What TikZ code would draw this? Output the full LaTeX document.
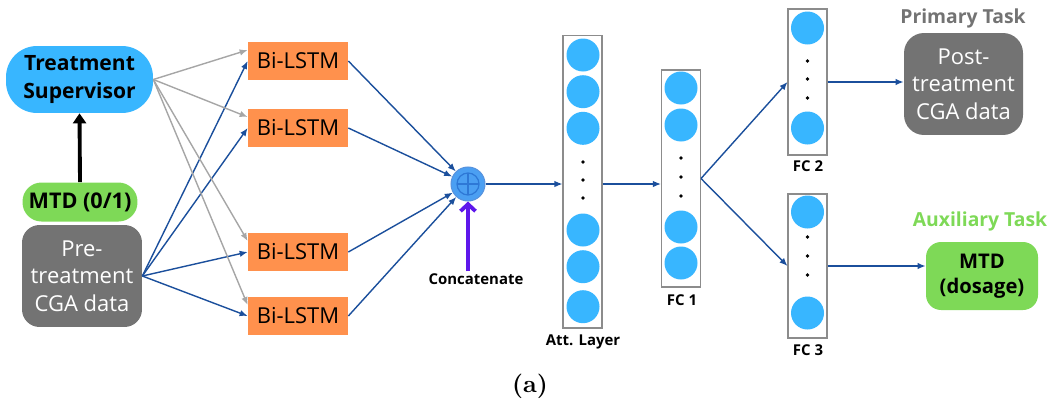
\documentclass[tikz,border=0pt]{standalone}
\usepackage{fontspec}
\newfontfamily\canva{Open Sans}
\newfontfamily\capfont{lmroman10-bold}[Extension=.otf]
\usetikzlibrary{arrows.meta,positioning}

\definecolor{skyblue}{HTML}{38B6FF}
\definecolor{lstmorange}{HTML}{FF914D}
\definecolor{mtdgreen}{HTML}{7ED957}
\definecolor{datagray}{HTML}{737373}
\definecolor{linkblue}{HTML}{1B4F9C}
\definecolor{linkgray}{HTML}{A6A6A6}
\definecolor{catpurple}{HTML}{5E17EB}
\definecolor{catblue}{HTML}{4B9FF2}
\definecolor{catline}{HTML}{2E78D6}

\begin{document}
\begin{tikzpicture}[x=0.02cm,y=-0.02cm,>=Latex,
  lstm/.style={fill=lstmorange,minimum width=2cm,minimum height=0.76cm,inner sep=0pt,font=\canva\fontsize{12.5}{14}\selectfont},
  col/.style={draw=black!45,line width=0.6pt,fill=white,minimum width=0.78cm,inner sep=0pt},
  neuron/.style={circle,fill=skyblue,minimum size=0.66cm,inner sep=0pt},
  lbl/.style={font=\canva\bfseries\fontsize{8.5}{10}\selectfont,inner sep=1pt},
  blink/.style={draw=linkblue,line width=0.8pt,-{Latex[length=1.6mm,width=1.3mm]}},
  glink/.style={draw=linkgray,line width=0.8pt,-{Latex[length=1.6mm,width=1.3mm]}},
  databox/.style={fill=datagray,text=white,rounded corners=0.35cm,align=center,inner sep=0pt,font=\canva\fontsize{12.5}{15.6}\selectfont}
]
\useasboundingbox (0,0) rectangle (1054,403);

% inputs
\node[fill=skyblue,rounded corners=0.62cm,minimum width=2.94cm,minimum height=1.34cm,align=center,inner sep=0pt,font=\canva\bfseries\fontsize{12}{16}\selectfont] (ts) at (79.5,79.5) {Treatment\\Supervisor};
\node[fill=mtdgreen,rounded corners=0.38cm,minimum width=2.3cm,minimum height=0.78cm,inner sep=0pt,font=\canva\bfseries\fontsize{12.3}{14}\selectfont] (mtd01) at (80,202) {MTD (0/1)};
\node[databox,minimum width=2.4cm,minimum height=2.04cm] (pre) at (82,276) {Pre-\\treatment\\CGA data};
\draw[line width=2.2pt,-{Triangle[length=2mm,width=2.6mm]}] (mtd01.north) -- (ts.south);

% Bi-LSTM layer
\node[lstm] (b1) at (298,61) {Bi-LSTM};
\node[lstm] (b2) at (298,128) {Bi-LSTM};
\node[lstm] (b3) at (298,252) {Bi-LSTM};
\node[lstm] (b4) at (298,316) {Bi-LSTM};
\foreach \b in {b1,b2,b3,b4}{
  \draw[glink] (ts.east) -- ([yshift=0.22cm]\b.west);
  \draw[blink] (pre.east) -- (\b.west);
}

% concatenation
\node[circle,fill=catblue,draw=catline!80,line width=0.6pt,minimum size=0.68cm,inner sep=0pt,
  path picture={
    \draw[catline,line width=0.7pt] (path picture bounding box.center) circle (0.22cm);
    \draw[catline,line width=0.7pt] ([yshift=0.22cm]path picture bounding box.center) -- ([yshift=-0.22cm]path picture bounding box.center);
    \draw[catline,line width=0.7pt] ([xshift=-0.22cm]path picture bounding box.center) -- ([xshift=0.22cm]path picture bounding box.center);
  }] (cc) at (468,184) {};
\node[lbl] (cat) at (476,279) {Concatenate};
\foreach \b in {b1,b2,b3,b4}
  \draw[blink] (\b.east) -- (cc);
\draw[catpurple,line width=2.2pt,-{Straight Barb[length=1.4mm,width=3mm]}] (cat.north -| cc.south) -- (cc.south);

% attention layer
\node[col,minimum height=5.86cm] (att) at (582.5,181.5) {};
\foreach \y [count=\i] in {55,91.7,128.3,230,266.7,306.7}
  \node[neuron] (att\i) at (583,\y) {};
\foreach \y in {162,180,198}
  \fill (583,\y) circle (1.1pt);
\node[lbl] (attl) at (583,342) {Att. Layer};

% fully connected layers
\node[col,minimum height=4.34cm] (fc1) at (681,178.5) {};
\foreach \y [count=\i] in {88,125,227,263}
  \node[neuron] (fca\i) at (681,\y) {};
\foreach \y in {158,177,196}
  \fill (681,\y) circle (1.1pt);
\node[lbl] (fc1l) at (682,300) {FC 1};

\node[col,minimum height=2.92cm] (fc2) at (807.5,82) {};
\foreach \y [count=\i] in {28,128}
  \node[neuron] (fcb\i) at (807.5,\y) {};
\foreach \y in {61,79,98}
  \fill (807.5,\y) circle (1.1pt);
\node[lbl] (fc2l) at (808,166) {FC 2};

\node[col,minimum height=2.88cm] (fc3) at (807.5,266) {};
\foreach \y [count=\i] in {212,313}
  \node[neuron] (fcc\i) at (807.5,\y) {};
\foreach \y in {237,256,275}
  \fill (807.5,\y) circle (1.1pt);
\node[lbl] (fc3l) at (808,350) {FC 3};

\draw[blink] (cc.east) -- (cc -| att.west);
\draw[blink] (att.east |- cc) -- (fc1.west |- cc);
\draw[blink] (fc1.east) -- (fc2.west);
\draw[blink] (fc1.east) -- (fc3.west);

% outputs
\node[databox,minimum width=2.38cm,minimum height=2.04cm,rounded corners=0.4cm] (post) at (963.5,84) {Post-\\treatment\\CGA data};
\node[text=datagray,font=\canva\bfseries\fontsize{11}{13}\selectfont,inner sep=0pt] (prim) at (963,18) {Primary Task};
\node[fill=mtdgreen,rounded corners=0.3cm,minimum width=2.24cm,minimum height=1.36cm,align=center,inner sep=0pt,font=\canva\bfseries\fontsize{11.5}{14}\selectfont] (mtd) at (982,276) {MTD\\(dosage)};
\node[text=mtdgreen,font=\canva\bfseries\fontsize{11}{13}\selectfont,inner sep=0pt] (aux) at (980,221) {Auxiliary Task};
\draw[blink] (fc2.east) -- (fc2.east -| post.west);
\draw[blink] (fc3.east) -- (fc3.east -| mtd.west);

\node[font=\capfont\fontsize{14}{16}\selectfont] (cap) at (530,386) {(a)};
\end{tikzpicture}
\end{document}
